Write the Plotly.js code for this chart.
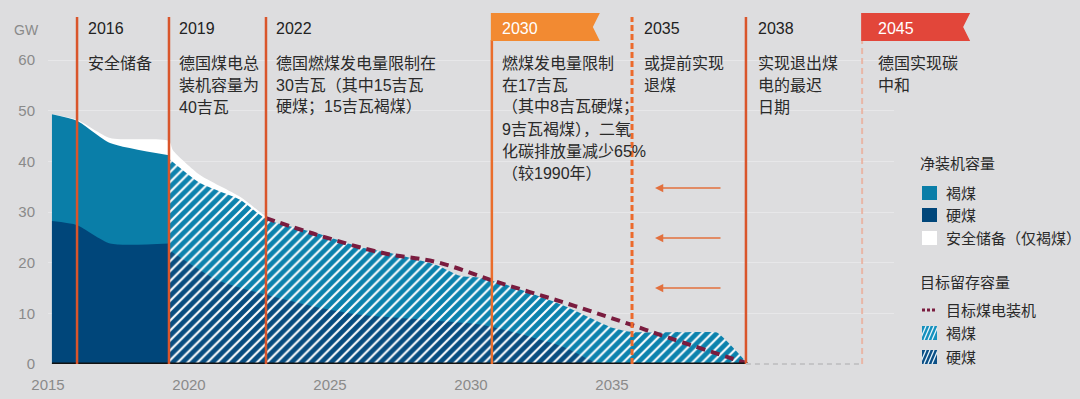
<!DOCTYPE html>
<html>
<head>
<meta charset="utf-8">
<script src="https://cdn.plot.ly/plotly-3.0.1.min.js"></script>
<style>html,body{margin:0;padding:0;background:#dddddf;}#chart{width:1080px;height:399px;}</style>
</head>
<body>
<div id="chart"></div>
<script>
// ---------- data ----------
const tickYears = [2015, 2020, 2025, 2030, 2035];
const tickLabels = ['2015', '2020', '2025', '2030', '2035'];
const yTicks = [0, 10, 20, 30, 40, 50, 60];

// net installed capacity (GW), stacked tops
const netYears = [2015.14, 2016.03, 2017.2, 2019.29];
const netLigniteTop = [49.3, 48.0, 43.6, 41.2];
const netHard = [28.2, 27.4, 23.8, 23.8];

// security reserve (lignite only) – top edge of white band
const reserveYears = [2015.14, 2016.03, 2017.2, 2019.29, 2019.43, 2020.39, 2021.81, 2022.87];
const reserveTop = [49.3, 48.2, 44.6, 44.0, 42.2, 37.3, 33.0, 28.4];

// target remaining capacity – lignite (stacked top) and hard coal
const targetLigniteYears = [2019.29, 2020.39, 2021.81, 2022.77, 2024.54, 2026.06, 2027.13, 2028.79, 2029.61, 2030.32, 2031.49, 2033.26, 2035.04, 2035.74, 2038.3, 2038.72, 2039.82];
const targetLigniteTop = [40.5, 35.7, 32.4, 28.5, 25.8, 23.1, 21.9, 19.5, 17.4, 17.0, 15.2, 11.6, 7.1, 6.3, 6.3, 6.2, 0];
const targetHardYears = [2019.29, 2020.99, 2022.77, 2024.54, 2026.06, 2028.44, 2030.32, 2031.49, 2033.26, 2034.22, 2034.6];
const targetHard = [22.5, 16.6, 13.6, 11.2, 9.7, 8.7, 7.8, 6.3, 3.4, 0.8, 0];

// target coal capacity line
const targetLineYears = [2022.73, 2024.54, 2026.88, 2028.79, 2030.92, 2033.26, 2035.39, 2036.95, 2039.08, 2039.7];
const targetLine = [28.8, 25.5, 21.9, 20.1, 16.2, 12.2, 8.3, 5.3, 1.4, 0.3];

// milestones
const milestoneYears = ['2016', '2019', '2022', '2030', '2035', '2038', '2045'];
const milestonePos = [2016.03, 2019.29, 2022.73, 2030.74, 2035.71, 2039.75, 2043.87];
const milestoneNotes = [
  ['安全储备'],
  ['德国煤电总', '装机容量为', '40吉瓦'],
  ['德国燃煤发电量限制在', '30吉瓦（其中15吉瓦', '硬煤；15吉瓦褐煤）'],
  ['燃煤发电量限制', '在17吉瓦', '（其中8吉瓦硬煤；', '9吉瓦褐煤），二氧', '化碳排放量减少65%', '（较1990年）'],
  ['或提前实现', '退煤'],
  ['实现退出煤', '电的最迟', '日期'],
  ['德国实现碳', '中和']
];

const legendGroup1 = '净装机容量';
const legendItems1 = ['褐煤', '硬煤', '安全储备（仅褐煤）'];
const legendGroup2 = '目标留存容量';
const legendItems2 = ['目标煤电装机', '褐煤', '硬煤'];

// ---------- styling ----------
const FONT = 'Liberation Sans, Arial, Noto Sans CJK SC, sans-serif';
const BG = '#dddddf';
const C_LIG = '#0a7ea8';
const C_HARD = '#00467a';
const C_LIG_H = '#0c82ad';
const C_HARD_H = '#084d80';
const C_TARGET = '#7a1c3f';
const C_LINE = '#d9552b';

const L = 48, R = 186, T = 17, B = 35, W = 1080, H = 399;
const PW = W - L - R, PH = H - T - B;
const X0 = 2015, X1 = 2045;
const px2x = px => (px - L) / PW;          // pixel -> paper x
const px2y = py => (H - B - py) / PH;      // pixel -> paper y
const yr2x = y => (y - X0) / (X1 - X0);    // year -> paper x

function area(x, y, color, pattern) {
  const t = {
    x: x, y: y, type: 'scatter', mode: 'lines',
    line: {width: 0, shape: 'spline', smoothing: 0.6, color: color},
    fill: 'tozeroy', fillcolor: color, hoverinfo: 'skip', showlegend: false
  };
  if (pattern) t.fillpattern = {shape: '/', bgcolor: color, fgcolor: '#ffffff', size: 7, solidity: 0.3};
  return t;
}

const traces = [
  area(reserveYears, reserveTop, '#ffffff'),
  area(netYears, netLigniteTop, C_LIG),
  area(targetLigniteYears, targetLigniteTop, C_LIG_H, true),
  area(targetHardYears, targetHard, C_HARD_H, true),
  area(netYears, netHard, C_HARD),
  {
    x: targetLineYears, y: targetLine, type: 'scatter', mode: 'lines',
    line: {color: C_TARGET, width: 4, dash: '9px,6px', shape: 'spline'},
    hoverinfo: 'skip', showlegend: false
  },
  {
    x: [netYears[0], targetLigniteYears[targetLigniteYears.length - 1]], y: [0, 0],
    type: 'scatter', mode: 'lines', line: {color: '#111111', width: 3},
    cliponaxis: false, hoverinfo: 'skip', showlegend: false
  }
];

const shapes = [];
const annotations = [];

// milestone lines
milestonePos.forEach((m, i) => {
  const yr = milestoneYears[i];
  if (yr === '2035') {
    shapes.push({type: 'line', xref: 'x', yref: 'paper', x0: m, x1: m, y0: 0, y1: 1,
      line: {color: '#ec6a2c', width: 3, dash: '6px,3px'}, layer: 'above'});
  } else if (yr === '2045') {
    shapes.push({type: 'line', xref: 'x', yref: 'paper', x0: m, x1: m, y0: 0, y1: px2y(41),
      line: {color: '#e9b6a6', width: 2, dash: '6px,4px'}, layer: 'above'});
  } else if (yr === '2030') {
    shapes.push({type: 'line', xref: 'x', yref: 'paper', x0: m, x1: m, y0: 0, y1: px2y(40),
      line: {color: '#ea6d2c', width: 2.5}, layer: 'above'});
  } else {
    shapes.push({type: 'line', xref: 'x', yref: 'paper', x0: m, x1: m, y0: 0, y1: 1,
      line: {color: C_LINE, width: 2.5}, layer: 'above'});
  }
});

// gray dashed baseline continuation
shapes.push({type: 'line', xref: 'paper', yref: 'paper',
  x0: yr2x(milestonePos[5]), x1: yr2x(milestonePos[6]), y0: 0, y1: 0,
  line: {color: '#c4c4c6', width: 2, dash: '5px,4px'}, layer: 'above'});

// flags
function flag(year, color) {
  const x0 = yr2x(year) - 1 / PW, x1 = x0 + 109 / PW, xn = x1 - 7 / PW;
  const yt = px2y(13), yb = px2y(41), ym = px2y(27);
  return {type: 'path', xref: 'paper', yref: 'paper',
    path: `M${x0},${yt} L${x1},${yt} L${xn},${ym} L${x1},${yb} L${x0},${yb} Z`,
    fillcolor: color, line: {width: 0}, layer: 'above'};
}
shapes.push(flag(milestonePos[3], '#f28a32'));
shapes.push(flag(milestonePos[6], '#e2463a'));

// milestone texts
const headerShift = [11, 10, 10, 10, 12, 12, 16];
milestonePos.forEach((m, i) => {
  const yr = milestoneYears[i];
  const white = (yr === '2030' || yr === '2045');
  annotations.push({xref: 'x', yref: 'paper', x: m, y: px2y(28), xshift: headerShift[i] - 2,
    xanchor: 'left', yanchor: 'middle', showarrow: false, text: yr,
    font: {family: FONT, size: 16, color: white ? '#ffffff' : '#222222'}});
  milestoneNotes[i].forEach((line, k) => {
    annotations.push({xref: 'x', yref: 'paper', x: m, y: px2y(63 + 22 * k), xshift: headerShift[i] - 2,
      xanchor: 'left', yanchor: 'middle', showarrow: false, text: line,
      font: {family: FONT, size: 16, color: '#2a2a2a'}});
  });
});

// GW label
annotations.push({xref: 'paper', yref: 'paper', x: px2x(12), y: px2y(30), xanchor: 'left', yanchor: 'middle',
  showarrow: false, text: 'GW', font: {family: FONT, size: 14, color: '#8a8a8a'}});

// arrows
[188, 238, 288].forEach(py => {
  annotations.push({xref: 'paper', yref: 'paper', x: px2x(655), y: px2y(py), ax: 67, ay: 0,
    showarrow: true, arrowhead: 2, arrowsize: 1.1, arrowwidth: 1.5, arrowcolor: '#e2703e', text: '', standoff: 0});
});

// legend (manual)
const LX = 922, LT = 946, LF = 15;
annotations.push({xref: 'paper', yref: 'paper', x: px2x(918), y: px2y(163), xanchor: 'left', yanchor: 'middle',
  showarrow: false, text: legendGroup1, font: {family: FONT, size: LF, color: '#2a2a2a'}});
const leg1Y = [193, 215, 238];
const leg1Col = [C_LIG, C_HARD, '#ffffff'];
legendItems1.forEach((t, i) => {
  shapes.push({type: 'rect', xref: 'paper', yref: 'paper', x0: px2x(LX), x1: px2x(LX + 15),
    y0: px2y(leg1Y[i] + 7), y1: px2y(leg1Y[i] - 7), fillcolor: leg1Col[i], line: {width: 0}});
  annotations.push({xref: 'paper', yref: 'paper', x: px2x(LT - 2), y: px2y(leg1Y[i]), xanchor: 'left', yanchor: 'middle',
    showarrow: false, text: t, font: {family: FONT, size: LF, color: '#2a2a2a'}});
});
annotations.push({xref: 'paper', yref: 'paper', x: px2x(918), y: px2y(282), xanchor: 'left', yanchor: 'middle',
  showarrow: false, text: legendGroup2, font: {family: FONT, size: LF, color: '#2a2a2a'}});
const leg2Y = [310, 333, 357];
legendItems2.forEach((t, i) => {
  const yc = leg2Y[i];
  if (i === 0) {
    shapes.push({type: 'line', xref: 'paper', yref: 'paper', x0: px2x(LX), x1: px2x(LX + 15),
      y0: px2y(yc), y1: px2y(yc), line: {color: C_TARGET, width: 3, dash: '3px,2px'}});
  } else {
    const col = i === 1 ? '#1590bd' : '#0b4f86';
    shapes.push({type: 'rect', xref: 'paper', yref: 'paper', x0: px2x(LX), x1: px2x(LX + 15),
      y0: px2y(yc + 7), y1: px2y(yc - 7), fillcolor: col, line: {width: 0}});
    [2, 6, 10, 14].forEach(o => {
      shapes.push({type: 'line', xref: 'paper', yref: 'paper',
        x0: px2x(LX + o - 4), y0: px2y(yc + 7), x1: px2x(LX + o + 2), y1: px2y(yc - 7),
        line: {color: '#e8f4fa', width: 1.3}});
    });
    shapes.push({type: 'rect', xref: 'paper', yref: 'paper', x0: px2x(LX - 6), x1: px2x(LX),
      y0: px2y(yc + 8), y1: px2y(yc - 8), fillcolor: BG, line: {width: 0}});
    shapes.push({type: 'rect', xref: 'paper', yref: 'paper', x0: px2x(LX + 15), x1: px2x(LX + 21),
      y0: px2y(yc + 8), y1: px2y(yc - 8), fillcolor: BG, line: {width: 0}});
  }
  annotations.push({xref: 'paper', yref: 'paper', x: px2x(LT - 2), y: px2y(yc), xanchor: 'left', yanchor: 'middle',
    showarrow: false, text: t, font: {family: FONT, size: LF, color: '#2a2a2a'}});
});

const layout = {
  width: W, height: H,
  margin: {l: L, r: R, t: T, b: B, pad: 0},
  paper_bgcolor: BG, plot_bgcolor: BG,
  showlegend: false,
  font: {family: FONT},
  xaxis: {
    range: [X0, X1], tickvals: tickYears, ticktext: tickLabels,
    showgrid: false, zeroline: false, showline: false, ticks: '',
    tickfont: {family: FONT, size: 15, color: '#8a8a8a'}, ticklabelstandoff: 10, fixedrange: true
  },
  yaxis: {
    range: [0, PH / (304 / 60)], tickvals: yTicks,
    showgrid: true, gridcolor: '#e7e7e9', gridwidth: 1,
    zeroline: false, showline: false, ticks: '',
    tickfont: {family: FONT, size: 15, color: '#8a8a8a'}, ticklabelstandoff: 12, fixedrange: true
  },
  shapes: shapes,
  annotations: annotations
};

Plotly.newPlot('chart', traces, layout, {displayModeBar: false, staticPlot: true});
</script>
</body>
</html>
